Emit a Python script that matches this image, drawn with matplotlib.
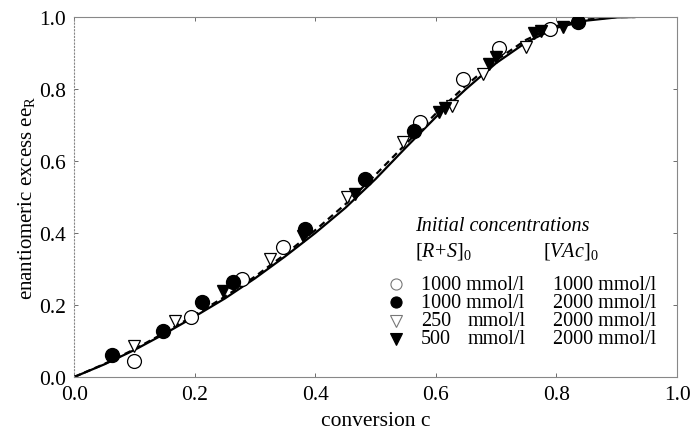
import numpy as np
import matplotlib
matplotlib.use('Agg')
import matplotlib.pyplot as plt

plt.rcParams['font.family'] = ['Liberation Serif', 'DejaVu Serif']
plt.rcParams['mathtext.fontset'] = 'custom'
plt.rcParams['mathtext.rm'] = 'Liberation Serif'
plt.rcParams['mathtext.it'] = 'Liberation Serif:italic'

# model curves
c_fit = [0, 0.05, 0.1, 0.15, 0.2, 0.25, 0.3, 0.35, 0.4, 0.45, 0.5, 0.55,
         0.6, 0.65, 0.7, 0.75, 0.8, 0.85, 0.9, 0.93]
ee_solid = [0, 0.035, 0.075, 0.12, 0.168, 0.218, 0.274, 0.335, 0.4, 0.47, 0.55, 0.637,
            0.722, 0.80, 0.872, 0.93, 0.97, 0.99, 0.999, 1.0]
ee_dash = [0, 0.036, 0.077, 0.123, 0.172, 0.223, 0.279, 0.341, 0.408, 0.48, 0.562, 0.647,
           0.732, 0.81, 0.88, 0.937, 0.975, 0.993, 1.0, 1.0]

# measured points
c_oc = [0.100, 0.194, 0.278, 0.347, 0.574, 0.645, 0.705, 0.790]   # 1000 / 1000
ee_oc = [0.043, 0.167, 0.272, 0.361, 0.708, 0.828, 0.915, 0.968]
c_fc = [0.062, 0.148, 0.212, 0.264, 0.383, 0.483, 0.563, 0.836]   # 1000 / 2000
ee_fc = [0.061, 0.129, 0.209, 0.264, 0.411, 0.550, 0.682, 0.985]
c_ot = [0.099, 0.167, 0.325, 0.452, 0.546, 0.626, 0.678, 0.750]   # 250 / 2000
ee_ot = [0.087, 0.156, 0.328, 0.499, 0.653, 0.752, 0.842, 0.918]
c_ft = [0.247, 0.380, 0.466, 0.605, 0.615, 0.688, 0.700, 0.763, 0.775, 0.811]  # 500 / 2000
ee_ft = [0.240, 0.392, 0.508, 0.735, 0.748, 0.870, 0.888, 0.955, 0.962, 0.972]

legend_rs = ['1000 mmol/l', '1000 mmol/l', '250', '500']
legend_vac = ['1000 mmol/l', '2000 mmol/l', '2000 mmol/l', '2000 mmol/l']

fig = plt.figure(figsize=(6.93, 4.39), dpi=100)
ax = fig.add_axes([0.107, 0.139, 0.870, 0.820])

ax.plot(c_fit, ee_solid, '-', color='black', lw=1.6, zorder=2)
ax.plot(c_fit, ee_dash, '--', color='black', lw=1.6, dashes=(3, 2), zorder=2)

ax.plot(c_ot, ee_ot, 'v', ms=9, mfc='white', mec='black', mew=0.9, zorder=3)
ax.plot(c_oc, ee_oc, 'o', ms=10, mfc='white', mec='black', mew=0.9, zorder=3)
ax.plot(c_ft, ee_ft, 'v', ms=8.5, color='black', zorder=4)
ax.plot(c_fc, ee_fc, 'o', ms=10, color='black', zorder=4)

ax.set_xlim(0, 1)
ax.set_ylim(0, 1)
ax.set_xticks([0, 0.2, 0.4, 0.6, 0.8, 1.0])
ax.set_yticks([0, 0.2, 0.4, 0.6, 0.8, 1.0])
ax.set_xticklabels(['0.0', '0.2', '0.4', '0.6', '0.8', '1.0'])
ax.set_yticklabels(['0.0', '0.2', '0.4', '0.6', '0.8', '1.0'])
ax.tick_params(direction='in', length=3, width=0.6, labelsize=15.5, color='#555555',
               top=True, right=True, pad=6)
for s in ax.spines.values():
    s.set_color('#888888')
    s.set_linewidth(0.8)
ax.spines['left'].set_linestyle((0, (1, 2)))
ax.spines['bottom'].set_linestyle((0, (1, 1)))

ax.set_xlabel('conversion c', fontsize=15.5, labelpad=5)
ax.set_ylabel(r'enantiomeric excess ee$_\mathregular{R}$', fontsize=15, labelpad=1)

# legend block
fs = 14.5
ax.text(0.566, 0.42, 'Initial concentrations', style='italic', fontsize=fs, va='center')
ax.text(0.566, 0.35, r'$\mathit{[R\!+\!S]}_{\mathit{0}}$', fontsize=fs, va='center')
ax.text(0.778, 0.35, r'$\mathit{[VAc]}_{\mathit{0}}$', fontsize=fs, va='center')
row_y = [0.258, 0.208, 0.156, 0.106]
row_marker = [('o', 'white'), ('o', 'black'), ('v', 'white'), ('v', 'black')]
for y, (m, fc), rs, vac in zip(row_y, row_marker, legend_rs, legend_vac):
    ax.plot([0.533], [y], m, ms=8, mfc=fc, mec='black' if fc == 'black' else '#777777',
            mew=0.8, clip_on=False)
    ax.text(0.575, y, rs, fontsize=fs, va='center')
    if len(rs) < 5:
        ax.text(0.653, y, 'mmol/l', fontsize=fs, va='center')
    ax.text(0.794, y, vac, fontsize=fs, va='center')

fig.savefig('out.png', dpi=100)
